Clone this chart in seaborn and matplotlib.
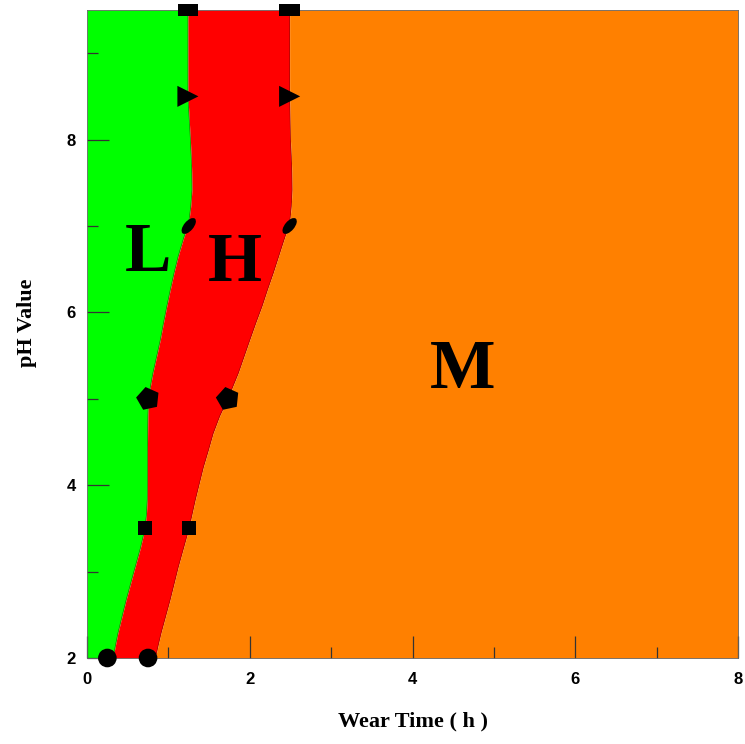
import numpy as np
import pandas as pd
import matplotlib
matplotlib.use("Agg")
import matplotlib.pyplot as plt
from matplotlib.markers import MarkerStyle
from matplotlib.transforms import Affine2D
from matplotlib.ticker import MultipleLocator
import seaborn as sns

# ---- boundary curves ----
boundary_ph = [2.0, 2.15, 2.29, 2.48, 2.67, 2.86, 3.05, 3.27, 3.49, 3.66, 3.83, 4.02,
               4.21, 4.4, 4.6, 4.8, 5.0, 5.15, 5.3, 5.49, 5.68, 5.88, 6.07, 6.27,
               6.46, 6.65, 6.84, 7.04, 7.23, 7.42, 7.62, 7.81, 8.0, 8.5, 9.5]
lower_time = [0.32, 0.35, 0.38, 0.43, 0.48, 0.535, 0.59, 0.655, 0.71, 0.73, 0.74, 0.742,
              0.742, 0.742, 0.745, 0.748, 0.755, 0.78, 0.81, 0.855, 0.90, 0.94, 0.98, 1.025,
              1.07, 1.12, 1.18, 1.25, 1.275, 1.29, 1.287, 1.28, 1.27, 1.24, 1.24]
upper_time = [0.84, 0.875, 0.91, 0.965, 1.02, 1.07, 1.12, 1.185, 1.25, 1.29, 1.33, 1.38,
              1.43, 1.49, 1.55, 1.63, 1.73, 1.795, 1.86, 1.93, 2.00, 2.075, 2.15, 2.22,
              2.29, 2.355, 2.42, 2.49, 2.51, 2.52, 2.517, 2.51, 2.50, 2.49, 2.49]

# ---- measured points (markers) ----
point_ph = [2.0, 3.5, 5.0, 7.0, 8.5, 9.5]
point_lower = [0.25, 0.71, 0.75, 1.25, 1.24, 1.24]
point_upper = [0.75, 1.25, 1.73, 2.49, 2.49, 2.49]

region_labels = ["L", "H", "M"]
region_x = [0.75, 1.82, 4.62]
region_y = [6.68, 6.56, 5.32]

x_ticks = [0, 2, 4, 6, 8]
y_ticks = [2, 4, 6, 8]

sns.set_theme(style="white")
plt.rcParams['font.family'] = ['Liberation Sans', 'DejaVu Sans']
plt.rcParams['axes.axisbelow'] = False

fig = plt.figure(figsize=(7.45, 7.44), dpi=100)
ax = fig.add_axes([0.1168, 0.1156, 0.8738, 0.871])
ax.set_axisbelow(False)

GREEN = "#00FF00"
RED = "#FF0000"
ORANGE = "#FF8000"

ax.fill_betweenx(boundary_ph, 0, lower_time, color=GREEN, lw=0, zorder=1)
ax.fill_betweenx(boundary_ph, lower_time, upper_time, color=RED, lw=0, zorder=1)
ax.fill_betweenx(boundary_ph, upper_time, 8, color=ORANGE, lw=0, zorder=1)
ax.plot(lower_time, boundary_ph, color="#400000", lw=0.4, alpha=0.6, zorder=2)
ax.plot(upper_time, boundary_ph, color="#401000", lw=0.4, alpha=0.6, zorder=2)

ellipse = MarkerStyle('o', transform=Affine2D().scale(1.0, 0.5).rotate_deg(50))
rect = MarkerStyle('s', transform=Affine2D().scale(1.5, 0.9))
pent = MarkerStyle('p', transform=Affine2D().rotate_deg(12))
markers = ['o', 's', pent, ellipse, '>', rect]
sizes = [180, 100, 300, 190, 230, 100]

for i in range(len(point_ph)):
    df = pd.DataFrame({"t": [point_lower[i], point_upper[i]],
                       "ph": [point_ph[i], point_ph[i]]})
    sns.scatterplot(data=df, x="t", y="ph", marker=markers[i], s=sizes[i],
                    color="black", edgecolor="none", linewidth=0, ax=ax,
                    clip_on=False, zorder=5)

for lab, xx, yy in zip(region_labels, region_x, region_y):
    ax.text(xx, yy, lab, ha="center", va="center", fontsize=50,
            fontweight="bold", family=["Liberation Serif", "DejaVu Serif"],
            color="black", zorder=6)

ax.set_xlim(0, 8)
ax.set_ylim(2, 9.5)
ax.set_xticks(x_ticks)
ax.set_yticks(y_ticks)
ax.xaxis.set_minor_locator(MultipleLocator(1))
ax.yaxis.set_minor_locator(MultipleLocator(1))
ax.tick_params(which="major", direction="in", length=16, width=0.9,
               color="#333333", bottom=True, left=True, top=False, right=False)
ax.tick_params(which="minor", direction="in", length=8, width=0.9,
               color="#333333", bottom=True, left=True, top=False, right=False)
ax.tick_params(axis="x", which="major", pad=10)
ax.tick_params(axis="y", which="major", pad=8)
for lbl in ax.get_xticklabels() + ax.get_yticklabels():
    lbl.set_fontweight("bold")
    lbl.set_fontsize(12)
    lbl.set_color("black")

for sp in ax.spines.values():
    sp.set_linewidth(0.6)
    sp.set_color("#666666")
    sp.set_zorder(3)

ax.set_xlabel("Wear Time ( h )", fontsize=16, fontweight="bold",
              family=["Liberation Serif", "DejaVu Serif"], color="black")
ax.set_ylabel("pH Value", fontsize=16, fontweight="bold",
              family=["Liberation Serif", "DejaVu Serif"], color="black")
ax.xaxis.set_label_coords(0.5, -0.083)
ax.yaxis.set_label_coords(-0.077, 0.517)

fig.savefig("out.png", dpi=100)
